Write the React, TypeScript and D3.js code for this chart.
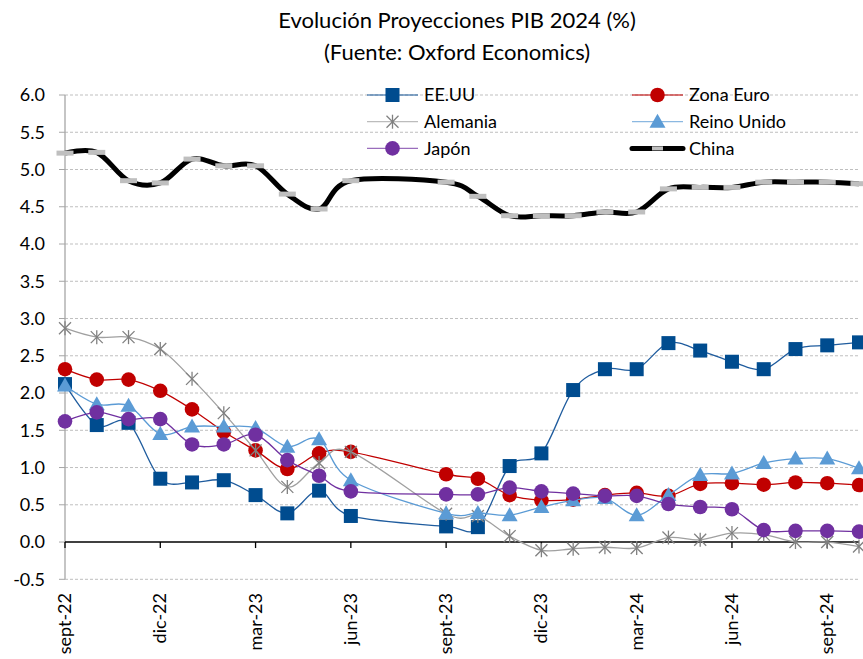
import React from "react";
import * as d3 from "d3";

const monthKeys = ["2022-09","2022-10","2022-11","2022-12","2023-01","2023-02","2023-03","2023-04","2023-05","2023-06","2023-09","2023-10","2023-11","2023-12","2024-01","2024-02","2024-03","2024-04","2024-05","2024-06","2024-07","2024-08","2024-09","2024-10"];

const eeuu = [2.12,1.57,1.6,0.85,0.8,0.83,0.63,0.385,0.69,0.35,0.21,0.2,1.02,1.19,2.04,2.32,2.32,2.67,2.57,2.42,2.32,2.59,2.64,2.68];
const zonaEuro = [2.32,2.18,2.18,2.03,1.78,1.48,1.23,0.98,1.19,1.21,0.91,0.85,0.63,0.56,0.57,0.63,0.66,0.62,0.78,0.79,0.77,0.8,0.79,0.765];
const alemania = [2.87,2.75,2.75,2.59,2.19,1.73,1.23,0.74,1.06,1.21,0.38,0.35,0.08,-0.11,-0.09,-0.07,-0.08,0.06,0.03,0.12,0.1,0.0,0.0,-0.06];
const reinoUnido = [2.1,1.85,1.83,1.45,1.55,1.55,1.53,1.28,1.38,0.83,0.385,0.39,0.36,0.47,0.56,0.59,0.36,0.63,0.9,0.92,1.06,1.12,1.12,0.99];
const japon = [1.62,1.74,1.65,1.65,1.31,1.31,1.44,1.1,0.89,0.68,0.64,0.64,0.73,0.68,0.65,0.62,0.62,0.51,0.47,0.44,0.16,0.15,0.15,0.14];
const china = [5.22,5.23,4.85,4.82,5.14,5.05,5.05,4.67,4.47,4.85,4.83,4.64,4.38,4.38,4.38,4.43,4.43,4.74,4.76,4.76,4.83,4.83,4.83,4.81];

const tickLabels = ["sept-22","dic-22","mar-23","jun-23","sept-23","dic-23","mar-24","jun-24","sept-24"];
const yTicks = [-0.5,0,0.5,1,1.5,2,2.5,3,3.5,4,4.5,5,5.5,6];

const FONT = "Lato, 'Open Sans', sans-serif";

type Marker = "square" | "circle" | "star" | "triangle" | "dash";
interface Series { name: string; values: number[]; line: string; lineWidth: number; marker: Marker; fill: string; }

const series: Series[] = [
  { name: "EE.UU", values: eeuu, line: "#1F5C9E", lineWidth: 1.3, marker: "square", fill: "#004C8F" },
  { name: "Zona Euro", values: zonaEuro, line: "#C00000", lineWidth: 1.3, marker: "circle", fill: "#C00000" },
  { name: "Alemania", values: alemania, line: "#A0A0A0", lineWidth: 1.3, marker: "star", fill: "#808080" },
  { name: "Reino Unido", values: reinoUnido, line: "#5B9BD5", lineWidth: 1.3, marker: "triangle", fill: "#5B9BD5" },
  { name: "Japón", values: japon, line: "#7030A0", lineWidth: 1.3, marker: "circle", fill: "#7030A0" },
  { name: "China", values: china, line: "#000000", lineWidth: 5, marker: "dash", fill: "#BFBFBF" },
];

function monthIndex(k: string) {
  const [y, m] = k.split("-").map(Number);
  return (y - 2022) * 12 + (m - 9);
}

function MarkerShape({ type, x, y, fill }: { type: Marker; x: number; y: number; fill: string }) {
  switch (type) {
    case "square":
      return <rect x={x - 7} y={y - 7} width={14} height={14} fill={fill} />;
    case "circle":
      return <circle cx={x} cy={y} r={7.3} fill={fill} />;
    case "triangle":
      return <path d={`M${x},${y - 8} L${x + 8},${y + 6} L${x - 8},${y + 6} Z`} fill={fill} />;
    case "star":
      return (
        <g stroke={fill} strokeWidth={1.3}>
          <line x1={x - 6} y1={y - 6} x2={x + 6} y2={y + 6} />
          <line x1={x - 6} y1={y + 6} x2={x + 6} y2={y - 6} />
          <line x1={x} y1={y - 7} x2={x} y2={y + 7} />
        </g>
      );
    case "dash":
      return <rect x={x - 8.5} y={y - 2.5} width={17} height={5} fill={fill} />;
  }
}

export default function App() {
  const W = 863, H = 659;
  const x = d3.scaleLinear().domain([0, 25]).range([65, 859]);
  const y = d3.scaleLinear().domain([-0.5, 6]).range([579.3, 95]);
  const idx = monthKeys.map(monthIndex);
  const lineGen = d3.line<[number, number]>().x(d => x(d[0])).y(d => y(d[1])).curve(d3.curveCardinal.tension(0));
  const quarterTicks = tickLabels.map((_, i) => i * 3);

  const legendRows = [
    [series[0], series[1]],
    [series[2], series[3]],
    [series[4], series[5]],
  ];

  return (
    <svg width={W} height={H} style={{ position: "absolute", left: 0, top: 0, background: "#fff" }} fontFamily={FONT}>
      <rect width={W} height={H} fill="#fff" />
      <text x={457} y={28} textAnchor="middle" fontSize={22} fill="#000">Evolución Proyecciones PIB 2024 (%)</text>
      <text x={457} y={60} textAnchor="middle" fontSize={22} fill="#000">(Fuente: Oxford Economics)</text>

      {yTicks.map(t => (
        <g key={t}>
          {t !== 0 && <line x1={65} x2={859} y1={y(t)} y2={y(t)} stroke="#BFBFBF" strokeWidth={1} strokeDasharray="3,2" />}
          <line x1={59} x2={65} y1={y(t)} y2={y(t)} stroke="#A6A6A6" strokeWidth={1} />
          <text x={45} y={y(t)} dy="0.35em" textAnchor="end" fontSize={18} fill="#000">{t.toFixed(1)}</text>
        </g>
      ))}
      <line x1={65} x2={65} y1={95} y2={579.3} stroke="#A6A6A6" strokeWidth={1.3} />
      <line x1={65} x2={859} y1={y(0)} y2={y(0)} stroke="#000" strokeWidth={1.5} />
      {quarterTicks.map((m, i) => (
        <g key={m}>
          <line x1={x(m)} x2={x(m)} y1={y(0)} y2={y(0) + 6} stroke="#000" strokeWidth={1.3} />
          <text transform={`translate(${x(m) + 6},593) rotate(-90)`} textAnchor="end" fontSize={18} fill="#000">{tickLabels[i]}</text>
        </g>
      ))}

      {legendRows.map((row, r) => row.map((s, c) => {
        const lx = c === 0 ? 367 : 632;
        const ly = 95 + r * 26.7;
        return (
          <g key={s.name}>
            {s.marker === "dash" ? (
              <>
                <line x1={lx} x2={lx + 51} y1={ly} y2={ly} stroke="#000" strokeWidth={5} strokeLinecap="round" />
                <rect x={lx + 20} y={ly - 2} width={11} height={4} fill="#BFBFBF" />
              </>
            ) : (
              <>
                <line x1={lx} x2={lx + 51} y1={ly} y2={ly} stroke={s.line} strokeWidth={1.3} opacity={0.7} />
                <MarkerShape type={s.marker} x={lx + 25.5} y={ly} fill={s.fill} />
              </>
            )}
            <text x={lx + 57} y={ly} dy="0.35em" fontSize={18} fill="#000">{s.name}</text>
          </g>
        );
      }))}

      {series.map(s => {
        const pts: [number, number][] = s.values.map((v, i) => [idx[i], v]);
        return (
          <g key={s.name}>
            <path d={lineGen(pts) ?? ""} fill="none" stroke={s.line} strokeWidth={s.lineWidth} />
            {pts.map((p, i) => (
              <MarkerShape key={i} type={s.marker} x={x(p[0])} y={y(p[1])} fill={s.fill} />
            ))}
          </g>
        );
      })}
    </svg>
  );
}
